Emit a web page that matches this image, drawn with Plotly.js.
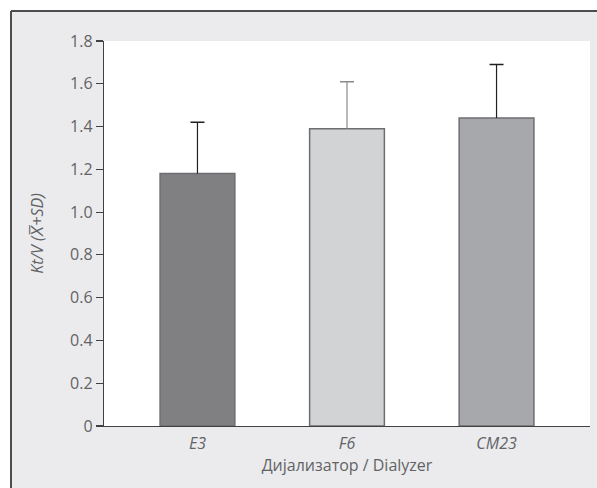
<!DOCTYPE html>
<html>
<head>
<meta charset="utf-8">
<script src="https://cdn.plot.ly/plotly-3.0.1.min.js"></script>
<style>html,body{margin:0;padding:0;background:#fff;}#chart{width:597px;height:488px;}</style>
</head>
<body>
<div id="chart"></div>
<script>
var categories = ["E3", "F6", "CM23"];
var means = [1.18, 1.39, 1.44];
var sds = [0.24, 0.22, 0.25];
var barColors = ["#808083", "#d2d3d5", "#a7a8ab"];
var errColors = ["#231f20", "#8a8a8c", "#231f20"];
var yTickVals = [0, 0.2, 0.4, 0.6, 0.8, 1.0, 1.2, 1.4, 1.6, 1.8];
var yTickText = ["0", "0.2", "0.4", "0.6", "0.8", "1.0", "1.2", "1.4", "1.6", "1.8"];

var W = 597, H = 488, mL = 104, mR = 7, mT = 41, mB = 62;
var pw = W - mL - mR, ph = H - mT - mB;
function px2x(p) { return (p - mL) / pw; }
function py2y(p) { return (H - mB - p) / ph; }
var txtColor = "#626366";

var traces = [];
categories.forEach(function (c, i) {
  // bar with the vertical error stem (no caps)
  traces.push({
    type: "bar",
    x: [c],
    y: [means[i]],
    width: 0.5,
    marker: {color: barColors[i], line: {color: "#6d6e71", width: 1.5}},
    error_y: {type: "data", array: [sds[i]], symmetric: false, arrayminus: [0], visible: true,
              color: errColors[i], thickness: 1.2, width: 0},
    hoverinfo: "none",
    showlegend: false
  });
  // cap at mean + SD
  traces.push({
    type: "scatter",
    mode: "markers",
    x: [c],
    y: [means[i] + sds[i]],
    marker: {size: 1, opacity: 0},
    error_y: {type: "data", array: [0], visible: true,
              color: errColors[i], thickness: 1.5, width: 7},
    hoverinfo: "none",
    showlegend: false
  });
});

var layout = {
  width: W, height: H,
  margin: {l: mL, r: mR, t: mT, b: mB, pad: 0},
  paper_bgcolor: "#ffffff",
  plot_bgcolor: "rgba(0,0,0,0)",
  barmode: "overlay",
  font: {family: "Open Sans, sans-serif", size: 16, color: txtColor},
  xaxis: {
    type: "category",
    categoryarray: categories,
    range: [-0.625, 2.625],
    showline: true, linecolor: "#414042", linewidth: 1.2,
    ticks: "outside", ticklen: 3, tickcolor: "rgba(0,0,0,0)",
    showgrid: false, zeroline: false,
    tickfont: {family: "Open Sans, sans-serif", size: 16, color: txtColor, style: "italic"},
    title: {text: "Дијализатор / Dialyzer", font: {size: 16, color: txtColor}, standoff: 2}
  },
  yaxis: {
    range: [0, 1.8],
    tickmode: "array", tickvals: yTickVals, ticktext: yTickText,
    showline: true, linecolor: "#414042", linewidth: 1.2,
    ticks: "outside", ticklen: 7, tickwidth: 1.2, tickcolor: "#414042",
    showgrid: false, zeroline: false,
    tickfont: {size: 16, color: txtColor},
    title: {text: "<i>Kt/V (X\u0305+SD)</i>", font: {size: 16, color: txtColor}, standoff: 22}
  },
  shapes: [
    {type: "rect", xref: "paper", yref: "paper", layer: "below",
     x0: px2x(11), x1: px2x(620), y0: py2y(520), y1: py2y(11),
     fillcolor: "#ebebed", line: {width: 0}},
    {type: "line", xref: "paper", yref: "paper", layer: "below",
     x0: px2x(11), x1: px2x(620), y0: py2y(11), y1: py2y(11),
     line: {color: "#4d4d4f", width: 2}},
    {type: "line", xref: "paper", yref: "paper", layer: "below",
     x0: px2x(11), x1: px2x(11), y0: py2y(11), y1: py2y(520),
     line: {color: "#4d4d4f", width: 2}},
    {type: "rect", xref: "paper", yref: "paper", layer: "below",
     x0: 0, x1: 1, y0: 0, y1: 1,
     fillcolor: "#ffffff", line: {width: 0}}
  ]
};

Plotly.newPlot("chart", traces, layout, {displayModeBar: false, staticPlot: true});
</script>
</body>
</html>
